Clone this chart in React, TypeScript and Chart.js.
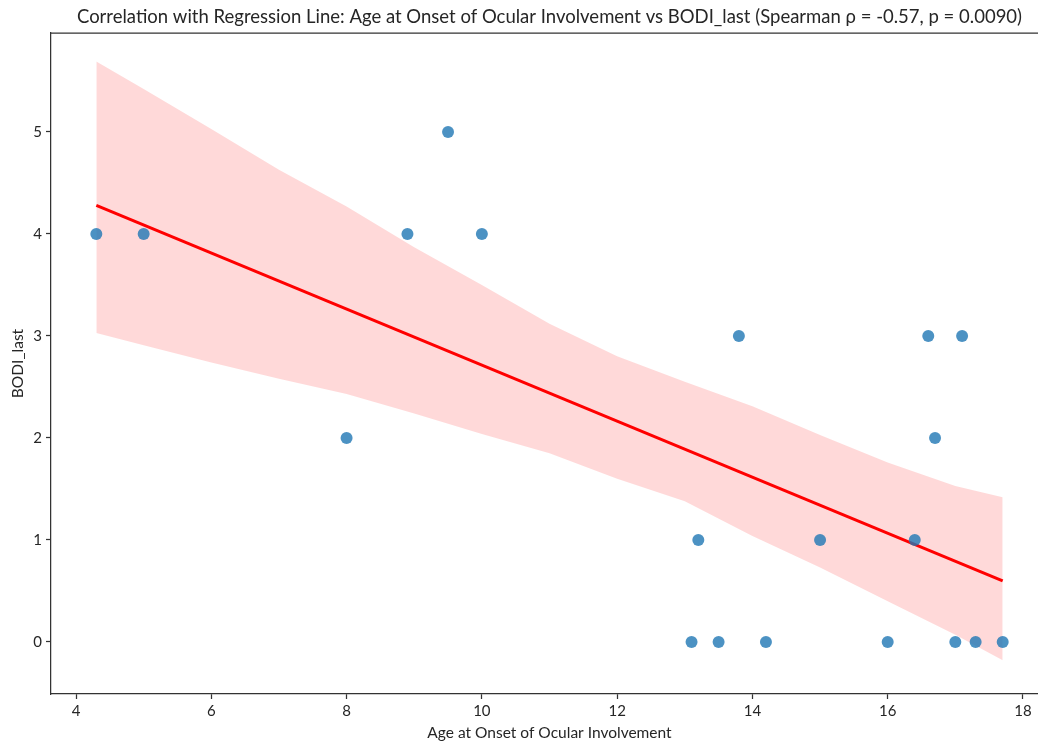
import React, { useEffect, useRef } from "react";
import { Chart, registerables } from "chart.js";

Chart.register(...registerables);

// Scatter data: age at onset of ocular involvement vs BODI_last
const ages = [4.3, 5.0, 8.0, 8.9, 9.5, 10.0, 13.1, 13.2, 13.5, 13.8, 14.2, 15.0, 16.0, 16.4, 16.6, 16.7, 17.0, 17.1, 17.3, 17.7];
const bodi = [4, 4, 2, 4, 5, 4, 0, 1, 0, 3, 0, 1, 0, 1, 3, 2, 0, 3, 0, 0];

// Regression line
const regX = [4.3, 17.7];
const regY = [4.28, 0.6];

// Confidence band
const bandX = [4.3, 5, 6, 7, 8, 9, 10, 11, 12, 13, 14, 15, 16, 17, 17.7];
const bandUpper = [5.69, 5.42, 5.03, 4.63, 4.27, 3.87, 3.5, 3.12, 2.8, 2.55, 2.31, 2.03, 1.76, 1.53, 1.42];
const bandLower = [3.03, 2.91, 2.74, 2.58, 2.43, 2.24, 2.04, 1.85, 1.6, 1.38, 1.04, 0.73, 0.4, 0.07, -0.18];

// Axis ticks
const xTicks = [4, 6, 8, 10, 12, 14, 16, 18];
const yTicks = [0, 1, 2, 3, 4, 5];

const TITLE = "Correlation with Regression Line: Age at Onset of Ocular Involvement vs BODI_last (Spearman ρ = -0.57, p = 0.0090)";
const X_TITLE = "Age at Onset of Ocular Involvement";
const Y_TITLE = "BODI_last";

const FONT = "Lato, 'Noto Sans', sans-serif";
const SPINE = "#333333";
const TEXT = "#262626";

const topSpine = {
  id: "topSpine",
  afterDraw(chart: any) {
    const { ctx, chartArea } = chart;
    ctx.save();
    ctx.strokeStyle = SPINE;
    ctx.lineWidth = 1.25;
    ctx.beginPath();
    ctx.moveTo(chartArea.left, chartArea.top);
    ctx.lineTo(chartArea.right + 2, chartArea.top);
    ctx.moveTo(chartArea.right, chartArea.top);
    ctx.lineTo(chartArea.right, chartArea.bottom);
    ctx.stroke();
    ctx.restore();
  },
};

export default function App() {
  const ref = useRef<HTMLCanvasElement | null>(null);

  useEffect(() => {
    document.body.style.overflow = "hidden";
    const canvas = ref.current;
    if (!canvas) return;
    const chart = new Chart(canvas, {
      type: "scatter",
      data: {
        datasets: [
          {
            label: "points",
            data: ages.map((x, i) => ({ x, y: bodi[i] })),
            backgroundColor: "rgba(31,119,180,0.8)",
            borderWidth: 0,
            pointRadius: 6,
            order: 0,
          },
          {
            type: "line",
            label: "regression",
            data: regX.map((x, i) => ({ x, y: regY[i] })),
            borderColor: "#ff0000",
            borderWidth: 3,
            pointRadius: 0,
            showLine: true,
            fill: false,
            order: 1,
          } as any,
          {
            type: "line",
            label: "upper",
            data: bandX.map((x, i) => ({ x, y: bandUpper[i] })),
            borderWidth: 0,
            borderColor: "rgba(0,0,0,0)",
            backgroundColor: "rgba(255,0,0,0.15)",
            pointRadius: 0,
            showLine: true,
            fill: "+1",
            tension: 0,
            order: 2,
          } as any,
          {
            type: "line",
            label: "lower",
            data: bandX.map((x, i) => ({ x, y: bandLower[i] })),
            borderWidth: 0,
            borderColor: "rgba(0,0,0,0)",
            pointRadius: 0,
            showLine: true,
            fill: false,
            tension: 0,
            order: 3,
          } as any,
        ],
      },
      options: {
        animation: false,
        responsive: false,
        devicePixelRatio: 1,
        layout: { padding: { left: 0, right: 12, top: 0, bottom: 0 } },
        plugins: {
          legend: { display: false },
          tooltip: { enabled: false },
          title: {
            display: true,
            text: TITLE,
            fullSize: false,
            color: TEXT,
            font: { family: FONT, size: 18.5, weight: "normal", lineHeight: 1.2 },
            padding: { top: 6, bottom: 4.8 },
          },
        },
        scales: {
          x: {
            type: "linear",
            min: 3.63,
            max: 18.37,
            afterBuildTicks: (scale: any) => {
              scale.ticks = xTicks.map((v) => ({ value: v }));
            },
            afterFit: (scale: any) => {
              scale.height = 50;
            },
            grid: { drawOnChartArea: false, drawTicks: true, tickLength: 5, color: SPINE, tickWidth: 1.25 },
            border: { display: true, color: SPINE, width: 1.25 },
            ticks: { color: TEXT, font: { family: FONT, size: 15 }, padding: 3, maxRotation: 0 },
            title: {
              display: true,
              text: X_TITLE,
              color: TEXT,
              font: { family: FONT, size: 15.5 },
              padding: { top: 2, bottom: 2 },
            },
          },
          y: {
            type: "linear",
            min: -0.51,
            max: 5.97,
            afterBuildTicks: (scale: any) => {
              scale.ticks = yTicks.map((v) => ({ value: v }));
            },
            afterFit: (scale: any) => {
              scale.width = 51;
            },
            grid: { drawOnChartArea: false, drawTicks: true, tickLength: 5, color: SPINE, tickWidth: 1.25 },
            border: { display: true, color: SPINE, width: 1.25 },
            ticks: { color: TEXT, font: { family: FONT, size: 15 }, padding: 4 },
            title: {
              display: true,
              text: Y_TITLE,
              color: TEXT,
              font: { family: FONT, size: 15.5 },
              padding: { top: 9, bottom: 0 },
            },
          },
        },
      },
      plugins: [topSpine],
    } as any);
    return () => chart.destroy();
  }, []);

  return (
    <canvas
      ref={ref}
      width={1060}
      height={744}
      style={{ position: "absolute", left: 0, top: 0, width: 1060, height: 744, display: "block" }}
    />
  );
}
